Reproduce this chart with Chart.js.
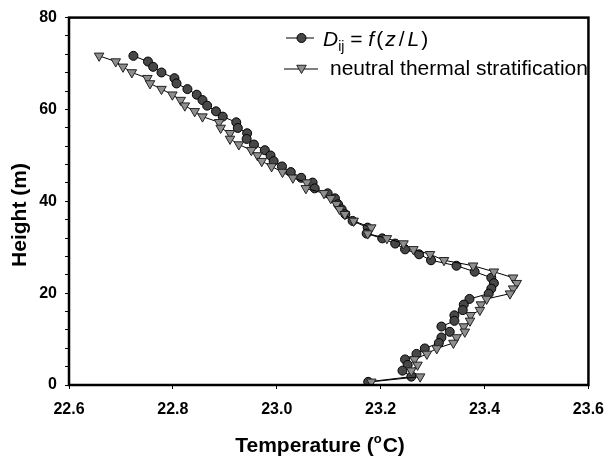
<!DOCTYPE html>
<html>
<head>
<meta charset="utf-8">
<style>
  html, body { margin: 0; padding: 0; background: #fff; }
  #chart { display: block; }
</style>
<script src="https://cdn.jsdelivr.net/npm/chart.js@4/dist/chart.umd.min.js"></script>
</head>
<body>
<canvas id="chart" width="615" height="456"></canvas>
<script>
// heights (m), shared by both profiles
const heights = [
  71.67, 70.43, 69.28, 68.05, 66.81, 65.66, 64.43, 63.21, 62.04, 60.82,
  59.59, 58.44, 57.20, 55.97, 54.82, 53.58, 52.36, 51.13, 49.98, 48.74,
  47.59, 46.36, 45.12, 44.08, 42.82, 41.74, 40.65, 39.35, 38.26, 37.18,
  35.73, 34.27, 32.97, 31.93, 30.80, 29.54, 28.46, 27.16, 25.97, 24.66,
  23.36, 22.17, 20.98, 19.89, 18.74, 17.51, 16.31, 15.18, 13.97, 12.73,
  11.58, 10.35, 9.15, 7.96, 6.77, 5.57, 4.38, 3.12, 1.82, 0.69
];

// temperature (degC), D_ij = f(z/L)
const tempDij = [
  22.724, 22.752, 22.762, 22.778, 22.803, 22.807, 22.828, 22.846, 22.857, 22.866,
  22.883, 22.896, 22.922, 22.925, 22.943, 22.942, 22.956, 22.977, 22.988, 22.994,
  23.010, 23.027, 23.047, 23.069, 23.073, 23.098, 23.112, 23.118, 23.125, 23.132,
  23.146, 23.175, 23.173, 23.203, 23.228, 23.247, 23.274, 23.297, 23.346, 23.381,
  23.413, 23.418, 23.413, 23.408, 23.371, 23.360, 23.358, 23.342, 23.342, 23.317,
  23.333, 23.317, 23.312, 23.285, 23.269, 23.247, 23.252, 23.242, 23.259, 23.176
];

// temperature (degC), neutral thermal stratification
const tempNeutral = [
  22.658, 22.690, 22.704, 22.721, 22.751, 22.756, 22.778, 22.799, 22.815, 22.823,
  22.842, 22.857, 22.889, 22.892, 22.910, 22.910, 22.927, 22.951, 22.963, 22.971,
  22.990, 23.011, 23.031, 23.058, 23.056, 23.091, 23.104, 23.115, 23.121, 23.131,
  23.148, 23.182, 23.175, 23.212, 23.244, 23.263, 23.295, 23.322, 23.378, 23.418,
  23.455, 23.462, 23.455, 23.449, 23.404, 23.393, 23.391, 23.373, 23.372, 23.360,
  23.362, 23.346, 23.340, 23.308, 23.289, 23.265, 23.271, 23.259, 23.276, 23.182
];

const xTicks = [22.6, 22.8, 23.0, 23.2, 23.4, 23.6];
const yLabels = [0, 20, 40, 60, 80];

const FONT = "'Liberation Sans', Arial, Helvetica, sans-serif";
const CIRCLE_FILL = "#474747";
const TRI_FILL = "#8e8e8e";

function toPoints(xs) {
  return xs.map((x, i) => ({ x: x, y: heights[i] }));
}

function circleAt(ctx, x, y) {
  ctx.beginPath();
  ctx.arc(x, y, 4.5, 0, Math.PI * 2);
  ctx.fillStyle = CIRCLE_FILL;
  ctx.fill();
  ctx.lineWidth = 1;
  ctx.strokeStyle = "#000";
  ctx.stroke();
}

function triangleAt(ctx, x, y) {
  const r = 5.5;
  ctx.beginPath();
  ctx.moveTo(x, y + r);
  ctx.lineTo(x - r * Math.sin(Math.PI / 3), y - r / 2);
  ctx.lineTo(x + r * Math.sin(Math.PI / 3), y - r / 2);
  ctx.closePath();
  ctx.fillStyle = TRI_FILL;
  ctx.fill();
  ctx.lineWidth = 1;
  ctx.strokeStyle = "#222";
  ctx.stroke();
}

// frame, axis titles and legend
const decor = {
  id: "decor",
  afterDraw(chart) {
    const ctx = chart.ctx;
    const a = chart.chartArea;
    ctx.save();

    ctx.strokeStyle = "#000";
    ctx.lineWidth = 2.5;
    ctx.strokeRect(a.left, a.top, a.right - a.left, a.bottom - a.top);

    // x title with superscript o
    ctx.fillStyle = "#000";
    ctx.textBaseline = "alphabetic";
    ctx.textAlign = "left";
    const big = "bold 21px " + FONT;
    const small = "bold 13px " + FONT;
    ctx.font = big;
    const p1 = "Temperature (";
    const p3 = "C)";
    const w1 = ctx.measureText(p1).width;
    const w3 = ctx.measureText(p3).width;
    ctx.font = small;
    const w2 = ctx.measureText("o").width + 1;
    const total = w1 + w2 + w3;
    let tx = 320 - total / 2;
    const base = 452;
    ctx.font = big;
    ctx.fillText(p1, tx, base);
    tx += w1;
    ctx.font = small;
    ctx.fillText("o", tx, base - 9);
    tx += w2;
    ctx.font = big;
    ctx.fillText(p3, tx, base);

    // y title
    ctx.save();
    ctx.translate(26, 215);
    ctx.rotate(-Math.PI / 2);
    ctx.textAlign = "center";
    ctx.font = big;
    ctx.fillText("Height (m)", 0, 0);
    ctx.restore();

    // legend row 1
    ctx.lineWidth = 1;
    ctx.strokeStyle = "#000";
    ctx.beginPath();
    ctx.moveTo(286, 38);
    ctx.lineTo(314, 38);
    ctx.stroke();
    circleAt(ctx, 301.5, 38);

    ctx.fillStyle = "#000";
    const it = "italic 21px " + FONT;
    const nm = "21px " + FONT;
    const sub = "14px " + FONT;
    const parts = [
      ["D", it, 0, 0], ["ij", sub, 5, 0], [" = ", nm, 0, 0], ["f", it, 0, 2],
      ["(", nm, 0, 2], ["z", it, 0, 3], ["/", nm, 0, 3], ["L", it, 0, 2], [")", nm, 0, 0]
    ];
    let lx = 323;
    const lb1 = 46;
    parts.forEach(p => {
      ctx.font = p[1];
      ctx.fillText(p[0], lx, lb1 + p[2]);
      lx += ctx.measureText(p[0]).width + p[3];
    });

    // legend row 2
    ctx.strokeStyle = "#000";
    ctx.beginPath();
    ctx.moveTo(284, 69);
    ctx.lineTo(318, 69);
    ctx.stroke();
    triangleAt(ctx, 301.5, 68);
    ctx.fillStyle = "#000";
    ctx.font = nm;
    ctx.fillText("neutral thermal stratification", 330, 75);

    ctx.restore();
  }
};

new Chart(document.getElementById("chart"), {
  type: "scatter",
  data: {
    datasets: [
      {
        label: "D_ij = f(z/L)",
        data: toPoints(tempDij),
        showLine: true,
        borderColor: "#000",
        borderWidth: 1,
        pointStyle: "circle",
        pointRadius: 4.5,
        pointBackgroundColor: CIRCLE_FILL,
        pointBorderColor: "#000",
        pointBorderWidth: 1,
        order: 2
      },
      {
        label: "neutral thermal stratification",
        data: toPoints(tempNeutral),
        showLine: true,
        borderColor: "#000",
        borderWidth: 1,
        pointStyle: "triangle",
        rotation: 180,
        pointRadius: 5.5,
        pointBackgroundColor: TRI_FILL,
        pointBorderColor: "#222",
        pointBorderWidth: 1,
        order: 1
      }
    ]
  },
  options: {
    responsive: false,
    animation: false,
    devicePixelRatio: 1,
    layout: { padding: { left: 0, top: 16, right: 18, bottom: 0 } },
    plugins: { legend: { display: false }, tooltip: { enabled: false } },
    scales: {
      x: {
        type: "linear",
        min: xTicks[0],
        max: xTicks[xTicks.length - 1],
        afterBuildTicks: s => { s.ticks = xTicks.map(v => ({ value: v })); },
        afterFit: s => { s.height = 71; },
        border: { display: false },
        grid: { drawOnChartArea: false, drawTicks: true, tickLength: 4, tickColor: "#000", tickWidth: 1 },
        ticks: {
          autoSkip: false,
          maxRotation: 0,
          padding: 11,
          color: "#000",
          font: { family: FONT, size: 16, weight: "bold" },
          callback: v => Number(v).toFixed(1)
        }
      },
      y: {
        type: "linear",
        min: 0,
        max: 80,
        afterFit: s => { s.width = 69; },
        border: { display: false },
        grid: { drawOnChartArea: false, drawTicks: true, tickLength: 4, tickColor: "#000", tickWidth: 1 },
        ticks: {
          stepSize: 4,
          autoSkip: false,
          padding: 8,
          color: "#000",
          font: { family: FONT, size: 16, weight: "bold" },
          callback: v => (yLabels.indexOf(v) >= 0 ? String(v) : "")
        }
      }
    }
  },
  plugins: [decor]
});
</script>
</body>
</html>
